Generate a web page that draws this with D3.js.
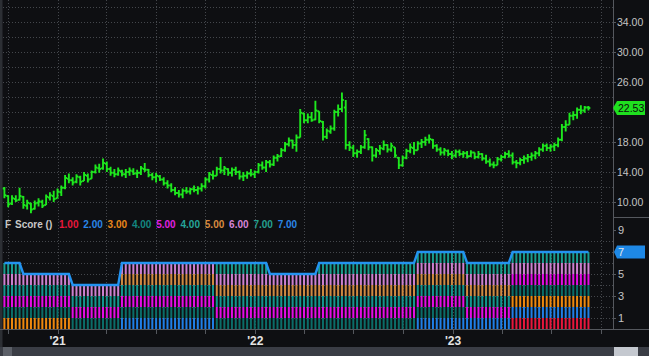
<!DOCTYPE html>
<html><head><meta charset="utf-8">
<script src="https://cdn.jsdelivr.net/npm/d3@7"></script>
<style>html,body{margin:0;padding:0;background:#0e0f12;overflow:hidden}svg{display:block}</style>
</head><body><svg id="c" width="649" height="356"></svg>
<script>
// ---------- DATA ----------
const firstWeek = new Date(2020, 8, 25); // weekly bars start
const lows = [10.5,9.3,9.6,10.0,10.2,9.1,9.0,8.5,9.0,9.4,
 9.2,9.6,10.2,10.0,10.5,10.8,11.7,12.5,12.2,12.5,
 12.2,12.8,12.6,13.1,13.8,13.9,14.3,14.0,13.5,13.3,
 13.5,13.4,13.2,13.5,13.6,13.2,13.6,14.0,13.3,12.9,
 12.6,12.8,12.2,11.8,11.3,10.9,10.6,10.5,11.1,11.0,
 11.3,11.0,11.4,11.8,12.6,13.0,13.5,13.8,13.6,13.5,
 13.4,13.6,13.0,12.8,13.1,13.4,13.2,13.8,14.3,14.0,
 14.6,14.8,15.4,16.0,16.7,17.4,17.1,16.7,18.6,20.5,
 20.5,20.7,20.9,20.5,18.2,18.4,19.1,19.5,21.4,22.0,
 17.0,16.8,16.0,15.9,16.4,17.1,16.9,15.4,15.9,16.3,
 16.9,16.6,16.7,15.9,14.4,14.7,15.7,16.5,16.3,16.9,
 17.2,17.5,17.8,17.1,16.7,16.2,16.2,16.1,15.7,15.9,
 16.1,15.9,15.8,16.0,15.7,15.8,15.5,15.1,14.7,14.5,
 14.9,15.4,15.8,15.9,15.0,14.5,14.9,15.1,15.3,15.5,
 15.7,16.1,16.7,16.8,16.7,16.8,17.3,18.1,19.4,20.3,
 20.9,21.1,21.7,21.9,22.2];
const highs = [12.0,10.9,10.9,10.9,11.9,10.8,10.3,9.9,10.2,10.5,
 10.3,11.0,11.3,11.5,11.8,12.2,13.6,13.8,13.3,13.7,
 13.5,14.0,13.8,14.2,15.0,15.1,15.8,15.4,14.7,14.4,
 14.6,14.3,14.4,14.6,14.5,14.3,14.8,15.2,14.4,13.9,
 13.9,13.6,13.3,12.9,12.5,12.0,11.6,11.8,12.0,11.9,
 12.2,12.1,12.5,13.3,14.0,14.2,14.7,16.0,14.8,14.5,
 14.6,14.7,14.2,14.0,14.1,14.4,14.2,15.2,15.4,15.6,
 15.6,16.2,16.4,17.2,18.0,18.6,18.3,19.0,22.4,21.9,
 21.8,22.0,23.5,22.1,20.8,19.8,20.2,22.3,23.0,24.6,
 23.6,18.1,17.6,17.0,17.6,19.6,18.5,17.4,17.2,17.6,
 18.2,17.7,17.9,17.3,16.0,16.2,17.1,17.8,18.0,18.1,
 18.4,18.7,19.0,18.4,17.7,17.3,17.2,17.0,16.8,17.0,
 17.0,16.8,16.8,16.9,16.6,16.8,16.5,16.3,15.8,15.4,
 16.0,16.3,16.7,16.9,16.6,15.6,15.9,16.2,16.4,16.6,
 16.8,17.3,17.8,17.8,17.7,17.9,18.6,20.4,20.9,21.9,
 22.1,22.6,22.9,22.8,22.8];
const opens = [11.8,10.8,9.8,10.4,10.3,10.7,9.5,9.8,9.1,9.9,
 10.0,9.6,10.6,10.8,10.5,11.3,11.9,13.1,12.9,12.7,
 13.3,12.8,13.5,13.1,14.0,14.5,14.5,15.1,14.4,13.9,
 13.7,14.1,13.7,14.0,14.1,13.8,13.9,14.4,14.3,13.6,
 13.3,13.4,13.0,12.5,12.2,11.6,11.2,11.0,11.5,11.4,
 11.7,11.6,11.8,12.1,13.0,13.6,13.5,14.4,14.2,14.4,
 13.9,14.3,14.0,13.4,13.5,13.8,13.7,14.0,14.9,14.6,
 15.3,15.0,15.9,16.1,16.9,17.7,18.2,17.6,18.6,21.8,
 20.9,21.3,21.0,22.1,20.7,18.7,19.4,19.8,22.0,22.4,
 22.6,17.6,17.2,16.5,16.7,17.3,18.4,17.3,16.2,16.8,
 17.1,17.6,17.0,17.3,15.9,14.9,15.9,16.8,17.2,16.9,
 17.8,18.0,18.3,18.3,17.5,17.0,16.6,16.8,16.4,16.2,
 16.7,16.4,16.5,16.1,16.6,16.0,16.4,15.8,15.4,15.0,
 14.9,15.7,16.0,16.4,16.2,15.3,15.2,15.6,15.8,16.0,
 16.2,16.5,17.0,17.5,17.2,17.4,17.6,18.3,20.0,20.3,
 21.5,21.6,22.3,22.2,22.6];
const closes = [10.9,9.7,10.5,10.2,10.8,9.6,9.9,9.0,9.8,10.1,
 9.5,10.7,10.9,10.4,11.4,11.9,13.2,12.9,12.6,13.4,
 12.7,13.6,13.0,14.0,14.6,14.4,15.2,14.4,13.9,13.7,
 14.2,13.7,14.0,14.2,13.8,13.9,14.5,14.3,13.6,13.3,
 13.5,13.0,12.5,12.2,11.6,11.2,11.0,11.5,11.4,11.7,
 11.6,11.8,12.1,13.0,13.7,13.5,14.4,14.2,14.5,13.9,
 14.3,14.0,13.4,13.5,13.8,13.7,14.0,14.9,14.6,15.3,
 15.0,15.9,16.1,16.9,17.7,18.2,17.6,18.6,21.9,20.9,
 21.3,20.9,22.2,20.8,18.7,19.5,19.8,22.0,22.4,23.6,
 17.6,17.3,16.5,16.7,17.3,18.9,17.3,16.2,16.9,17.2,
 17.6,17.0,17.5,16.2,14.9,15.9,16.8,17.3,16.9,17.8,
 18.0,18.3,18.4,17.5,17.0,16.6,16.9,16.4,16.2,16.7,
 16.4,16.5,16.1,16.6,16.0,16.4,15.8,15.4,15.0,14.9,
 15.7,16.0,16.4,16.2,15.3,15.2,15.6,15.8,16.0,16.2,
 16.5,17.0,17.5,17.2,17.4,17.6,18.3,20.0,20.3,21.5,
 21.6,22.3,22.2,22.6,22.53];
const lastPrice = "22.53";

// F-Score: period start (week index) and criteria passed in that period
const fStartWeek = [0, 5, 18, 31, 56, 70, 83, 109, 122, 134];
const fPassed = [[3,4,5,6,8,9],[3,4,5,6,8],[4,5,6,8],[2,4,5,6,7,8],[4,5,6,7,8,9],
                 [4,5,6,7,8],[4,5,6,7,8,9],[2,4,5,6,7,8,9],[2,5,6,7,8,9],[1,2,3,4,5,8,9]];
const critColors = {1:"#e8163c",2:"#1f7fe6",3:"#ee880e",4:"#0b6d68",5:"#e50be5",
                    6:"#13968e",7:"#d08a42",8:"#cd80d0",9:"#1a9d8d"};
const fLineColor = "#2393f0";
const legendTitle = ["F", "Score ()"];
const legendValues = ["1.00","2.00","3.00","4.00","5.00","4.00","5.00","6.00","7.00","7.00"];
const legendColors = ["#e8173c","#2a86e8","#e8871a","#138781","#e020e0","#25a69a","#d98b40","#d885d8","#25a090","#2a86e8"];
const priceTicks = [10,14,18,26,30,34];
const fTicks = [1,3,5,9];
const lastScoreLabel = "7";

// ---------- CHART ----------
const W = 649, H = 356, AX = 613;
const svg = d3.select("#c");
svg.append("rect").attr("width",W).attr("height",H).attr("fill","#0e0f12");

const dates = lows.map((d,i) => d3.timeDay.offset(firstWeek, 7*i));
const x = d3.scaleTime().domain([new Date(2021,0,1), new Date(2023,0,1)]).range([57.5,453]);
const yP = d3.scaleLinear().domain([10,34]).range([202,22]);
const yF = d3.scaleLinear().domain([0,9]).range([329,230]);

// score per week
const passedByWeek = dates.map((d,i) => {
  let p = 0; for (let k=0;k<fStartWeek.length;k++) if (i>=fStartWeek[k]) p=k;
  return fPassed[p];
});

const gridC = "#44474c";
const grid = svg.append("g").attr("stroke",gridC).attr("stroke-dasharray","1,2").attr("stroke-width",1);
const qDates = d3.timeMonth.range(new Date(2020,9,1), new Date(2023,10,1), 3);
grid.selectAll(".v").data(qDates).join("line")
  .attr("x1",d=>Math.round(x(d))+0.5).attr("x2",d=>Math.round(x(d))+0.5).attr("y1",0).attr("y2",329);
grid.selectAll(".hp").data(d3.range(10,37,2)).join("line")
  .attr("x1",3).attr("x2",AX).attr("y1",d=>Math.round(yP(d))+0.5).attr("y2",d=>Math.round(yP(d))+0.5);
grid.selectAll(".hf").data(d3.range(1,9)).join("line")
  .attr("x1",3).attr("x2",AX).attr("y1",d=>Math.round(yF(d))+0.5).attr("y2",d=>Math.round(yF(d))+0.5);

// F-score stacked bars
const bw = 2;
const fg = svg.append("g");
dates.forEach((d,i) => {
  const cx = x(d);
  passedByWeek[i].forEach((c,r) => {
    fg.append("rect").attr("x",cx-bw/2).attr("width",bw)
      .attr("y",yF(r+1)).attr("height",yF(r)-yF(r+1)).attr("fill",critColors[c]);
  });
});
// F-score line
svg.append("path").datum(dates.map((d,i)=>[x(d), yF(passedByWeek[i].length)]))
  .attr("d", d3.line()).attr("fill","none").attr("stroke",fLineColor).attr("stroke-width",2.4);

// Price OHLC bars
const pg = svg.append("g").attr("stroke","#1ee81e").attr("stroke-width",1.9).attr("fill","none");
dates.forEach((d,i) => {
  const cx = x(d);
  pg.append("line").attr("x1",cx).attr("x2",cx).attr("y1",yP(highs[i])).attr("y2",yP(lows[i]));
  pg.append("line").attr("x1",cx-1.9).attr("x2",cx).attr("y1",yP(opens[i])).attr("y2",yP(opens[i]));
  pg.append("line").attr("x1",cx).attr("x2",cx+1.9).attr("y1",yP(closes[i])).attr("y2",yP(closes[i]));
});

// left border strip
svg.append("rect").attr("x",0).attr("y",0).attr("width",2.5).attr("height",347).attr("fill","#2c2f34");

// axes lines
const axC = "#55585e";
svg.append("line").attr("x1",AX+0.5).attr("x2",AX+0.5).attr("y1",0).attr("y2",329).attr("stroke",axC);
svg.append("line").attr("x1",AX).attr("x2",W).attr("y1",217.5).attr("y2",217.5).attr("stroke",axC);
svg.append("line").attr("x1",0).attr("x2",W).attr("y1",329.5).attr("y2",329.5).attr("stroke",axC);
svg.selectAll(".xt").data(qDates).join("line")
  .attr("x1",d=>Math.round(x(d))+0.5).attr("x2",d=>Math.round(x(d))+0.5).attr("y1",330).attr("y2",334).attr("stroke",axC);

const font = "'Liberation Sans', Arial, sans-serif";
// year labels
const years = [new Date(2021,0,1), new Date(2022,0,1), new Date(2023,0,1)];
svg.selectAll(".yl").data(years).join("text")
  .attr("x",d=>x(d)).attr("y",345).attr("text-anchor","middle")
  .attr("font-family",font).attr("font-size",12).attr("font-weight","bold").attr("fill","#e4e4e4")
  .text(d3.timeFormat("'%y"));

// price axis labels
svg.selectAll(".pt").data(priceTicks).join("line")
  .attr("x1",AX).attr("x2",AX+3).attr("y1",d=>Math.round(yP(d))+0.5).attr("y2",d=>Math.round(yP(d))+0.5).attr("stroke",axC);
svg.selectAll(".pl").data(priceTicks).join("text")
  .attr("x",AX+4).attr("y",d=>yP(d)+4).attr("font-family",font).attr("font-size",10.5).attr("fill","#c4c4c4")
  .text(d=>d3.format(".2f")(d));
// last price label
const lpY = yP(+lastPrice);
svg.append("path").attr("d",`M${AX},${lpY} L${AX+4},${lpY-7} H${W-4} V${lpY+7} H${AX+4} Z`).attr("fill","#1fe01f");
svg.append("text").attr("x",AX+5).attr("y",lpY+4).attr("font-family",font).attr("font-size",10.5).attr("fill","#0c0c0c").text(lastPrice);

// F axis labels
svg.selectAll(".ft").data(fTicks).join("line")
  .attr("x1",AX).attr("x2",AX+3).attr("y1",d=>Math.round(yF(d))+0.5).attr("y2",d=>Math.round(yF(d))+0.5).attr("stroke",axC);
svg.selectAll(".fl").data(fTicks).join("text")
  .attr("x",AX+5).attr("y",d=>yF(d)+4).attr("font-family",font).attr("font-size",11).attr("fill","#c4c4c4")
  .text(d=>d);
const lsY = yF(+lastScoreLabel);
svg.append("path").attr("d",`M${AX+1},${lsY} L${AX+4},${lsY-6.5} H${W-4} V${lsY+6.5} H${AX+4} Z`).attr("fill","#1e88e5");
svg.append("text").attr("x",AX+5).attr("y",lsY+4).attr("font-family",font).attr("font-size",11).attr("fill","#e6e6e6").text(lastScoreLabel);

// legend
const lg = svg.append("g").attr("font-family",font).attr("font-size",10).attr("font-weight","bold");
lg.append("text").attr("x",5).attr("y",228).attr("fill","#c8c8c8").text(legendTitle[0]);
lg.append("text").attr("x",15).attr("y",228).attr("fill","#c8c8c8").text(legendTitle[1]);
lg.selectAll(".lv").data(legendValues).join("text")
  .attr("x",(d,i)=>59+i*24.3).attr("y",228).attr("fill",(d,i)=>legendColors[i]).text(d=>d);

// scrollbar
svg.append("rect").attr("x",0).attr("y",347).attr("width",W).attr("height",9).attr("fill","#3a3d45");
svg.append("rect").attr("x",3).attr("y",347).attr("width",9).attr("height",9).attr("fill","#5c6068");
svg.append("rect").attr("x",614).attr("y",347).attr("width",24).attr("height",9).attr("fill","#c4c8cf");
</script></body></html>
